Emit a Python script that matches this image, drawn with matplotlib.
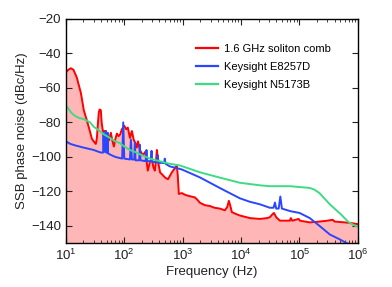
import numpy as np
import matplotlib.pyplot as plt
from matplotlib.ticker import LogLocator, NullFormatter

plt.rcParams['font.family'] = ['Liberation Sans', 'DejaVu Sans']

# 1.6 GHz soliton comb (red)
comb_f = [10, 11, 12.2, 13.5, 15.4, 18.1, 20.3, 22.5, 24.8, 27.9, 30, 32.6, 34, 35.5,
          36.7, 38, 39.7, 41, 43, 48.4, 51, 54.5, 59, 62, 66.4, 70, 74.7, 80, 85, 91,
          100, 108, 115, 125, 135, 145, 155, 164, 172, 185, 208, 230, 253, 275, 297,
          315, 334, 350, 362, 380, 410, 440, 500, 560, 653, 720, 795, 825, 860, 970,
          1100, 1230, 1400, 1620, 1800, 1970, 2400, 2930, 3500, 4340, 5280, 5800, 6180,
          6500, 6950, 8000, 9530, 14150, 20900, 28000, 31100, 34000, 36500, 40000,
          46200, 68500, 71000, 75000, 97000, 101600, 150600, 223000, 300000, 370000,
          400000, 598000, 800000, 1e6]
comb_db = [-51, -49.5, -48.6, -49.5, -54, -63, -73, -78, -83, -89.5, -91, -92.5, -89, -80,
           -74, -72.5, -73, -80, -85, -85, -88, -90.5, -86, -90, -94, -90, -86.5, -88, -87, -84,
           -82, -84, -83, -89, -85, -90, -92, -94.6, -91, -96, -99, -97, -108, -103, -101,
           -106, -108, -102, -96, -103, -109, -110, -112, -113, -109, -107, -105, -111, -121.5, -121,
           -122, -122.5, -123, -123.5, -125, -126.6, -128, -128.5, -129.5, -130, -131, -129, -125.5,
           -128, -132, -133, -134, -135.5, -136, -135.5, -135, -133.5, -132.5, -135,
           -137, -137, -135.5, -137, -136, -137, -138, -137.5, -137, -136.5,
           -137.5, -138, -138.5, -139]

# Keysight E8257D (blue)
e8257_f = [10, 12, 15, 20, 26, 30, 36, 40, 43.5, 44.2, 45, 47.5, 48.4, 49.3, 51.3, 52, 52.8,
           60, 70, 80, 92, 96, 100, 125, 130, 135, 148, 152, 156, 180, 185, 190, 232, 240, 248,
           285, 293, 300, 365, 375, 385, 480, 494, 510, 600, 900, 1000, 2000, 4300,
           9500, 14000, 21000, 31000, 36000, 38000, 40000, 44000, 47000, 50000, 70000,
           100000, 150000, 220000, 330000, 500000, 600000, 750000]
e8257_db = [-91, -92.5, -93.5, -94.6, -95.5, -96, -97, -97.5, -97.5, -86, -97, -97, -85, -97.5,
            -97.7, -86, -98, -99, -100, -100.5,
            -101, -80, -101, -101.5, -90, -101.5, -101.5, -92, -102, -102, -93, -102, -102.5, -96, -102.5,
            -102.5, -96.5, -103, -103, -99, -103.5, -103.5, -101, -104, -105.5, -107, -107.5, -112, -118,
            -124, -126, -127.5, -129.5, -129.5, -126.5, -130, -130, -123, -130, -131.5,
            -132.5, -135.5, -140, -145, -148, -149.5, -151]

# Keysight N5173B (green)
n5173_f = [10, 11, 12.5, 14, 17, 20, 26, 30, 38, 45, 57, 70, 84, 100, 125, 150, 185, 275,
           400, 600, 900, 2000, 4300, 9500, 21000, 31000, 69000, 100000, 150000, 180000,
           220000, 330000, 500000, 700000, 900000, 1e6]
n5173_db = [-70, -72, -74.5, -76, -77.5, -78, -80, -82.5, -85, -87, -89, -91, -92, -94, -96,
            -97, -98.5, -101, -102.5, -104, -105, -109, -112, -115, -116.5, -117, -117,
            -117.5, -118, -119, -121, -127.5, -133, -138, -140, -140.5]

fig = plt.figure(figsize=(3.92, 2.87), dpi=100)
ax = fig.add_axes([0.168, 0.153, 0.745, 0.781])

ax.fill_between(comb_f, comb_db, -150, color='#ffb6b6', lw=0)
ax.plot(comb_f, comb_db, color='#ff0000', lw=1.4, label='1.6 GHz soliton comb')
ax.plot(e8257_f, e8257_db, color='#2a46ff', lw=1.4, label='Keysight E8257D')
ax.plot(n5173_f, n5173_db, color='#3ddc84', lw=1.4, label='Keysight N5173B')

ax.set_xscale('log')
ax.set_xlim(10, 1e6)
ax.set_ylim(-150, -20)
ax.set_yticks(np.arange(-140, -19, 20))
ax.xaxis.set_major_locator(LogLocator(base=10, numticks=10))
ax.xaxis.set_minor_locator(LogLocator(base=10, subs=np.arange(2, 10), numticks=20))
ax.xaxis.set_minor_formatter(NullFormatter())
ax.tick_params(which='both', direction='in', top=True, right=True, labelsize=9.5, colors='#222222')
ax.tick_params(which='major', length=4)
ax.tick_params(which='minor', length=2)
for s in ax.spines.values():
    s.set_linewidth(1.0)

ax.set_xlabel('Frequency (Hz)', fontsize=9.5, color='#222222', labelpad=2)
ax.set_ylabel('SSB phase noise (dBc/Hz)', fontsize=9.5, color='#222222', labelpad=2)

leg = ax.legend(loc='upper left', bbox_to_anchor=(0.43, 0.91), frameon=False, fontsize=8,
                handlelength=2.0, handletextpad=0.5, labelspacing=0.75, borderaxespad=0)
for h in leg.get_lines():
    h.set_linewidth(1.6)

fig.savefig('out.png', dpi=100)
